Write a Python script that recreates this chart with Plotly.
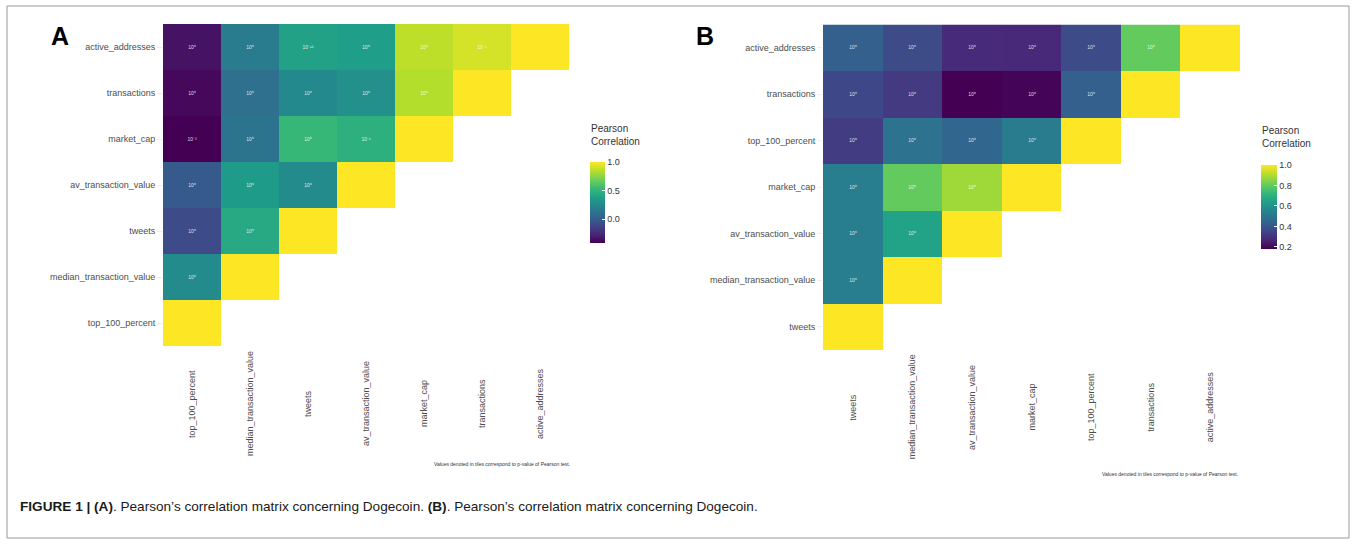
import plotly.graph_objects as go

W, H = 1356, 544

# ---------------- Data ----------------
# Panel A: x order (left->right); rows listed top->bottom = reversed x order
vars_A = ["top_100_percent", "median_transaction_value", "tweets", "av_transaction_value",
          "market_cap", "transactions", "active_addresses"]
corr_A = [  # rows top -> bottom (active_addresses ... top_100_percent)
    [-0.35, 0.17, 0.39, 0.37, 0.86, 0.91, 1.0],
    [-0.39, 0.10, 0.25, 0.29, 0.84, 1.0],
    [-0.42, 0.12, 0.53, 0.48, 1.0],
    [-0.02, 0.36, 0.26, 1.0],
    [-0.09, 0.43, 1.0],
    [0.26, 1.0],
    [1.0],
]
pexp_A = [
    [0, 0, -12, 0, 0, -6, None],
    [0, 0, 0, 0, 0, None],
    [-3, 0, 0, -1, None],
    [0, 0, 0, None],
    [0, 0, None],
    [0, None],
    [None],
]

# Panel B
vars_B = ["tweets", "median_transaction_value", "av_transaction_value", "market_cap",
          "top_100_percent", "transactions", "active_addresses"]
corr_B = [  # rows top -> bottom
    [0.43, 0.37, 0.28, 0.27, 0.37, 0.80, 1.0],
    [0.36, 0.32, 0.18, 0.19, 0.43, 1.0],
    [0.33, 0.49, 0.45, 0.52, 1.0],
    [0.53, 0.80, 0.88, 1.0],
    [0.53, 0.65, 1.0],
    [0.53, 1.0],
    [1.0],
]
pexp_B = [
    [0, 0, 0, 0, 0, 0, None],
    [0, 0, 0, 0, 0, None],
    [0, 0, 0, 0, None],
    [0, 0, 0, None],
    [0, 0, None],
    [0, None],
    [None],
]

cbar_A_ticks = [0.0, 0.5, 1.0]
cbar_B_ticks = [0.2, 0.4, 0.6, 0.8, 1.0]
footnote = "Values denoted in tiles correspond to p-value of Pearson test."
caption = ("<b>FIGURE 1 | (A)</b>. Pearson\u2019s correlation matrix concerning Dogecoin. "
           "<b>(B)</b>. Pearson\u2019s correlation matrix concerning Dogecoin.")

SUP = str.maketrans("0123456789-", "\u2070\u00b9\u00b2\u00b3\u2074\u2075\u2076\u2077\u2078\u2079\u207b")


def build(vars_, corr, pexp):
    n = len(vars_)
    z, t = [], []
    # y order bottom->top equals vars_ order; rows given top->bottom
    for r_top in reversed(range(n)):
        row = corr[r_top]
        prow = pexp[r_top]
        zr, tr = [], []
        for c in range(n):
            if c < len(row):
                zr.append(row[c])
                tr.append("" if prow[c] is None else "10" + str(prow[c]).translate(SUP))
            else:
                zr.append(None)
                tr.append("")
        z.append(zr)
        t.append(tr)
    return z, t


def px(x):
    return x / W


def py(y):
    return 1 - y / H


zA, tA = build(vars_A, corr_A, pexp_A)
zB, tB = build(vars_B, corr_B, pexp_B)

fig = go.Figure()
tick_font = dict(family="Liberation Sans, Arial", size=9, color="#4d4d4d")

fig.add_trace(go.Heatmap(
    x=vars_A, y=vars_A, z=zA, text=tA, texttemplate="%{text}",
    textfont=dict(size=5, color="rgba(255,255,255,0.85)", family="Liberation Sans, Arial"),
    colorscale="Viridis", zmin=min(min(r) for r in corr_A), zmax=1.0,
    xaxis="x", yaxis="y", hoverongaps=False,
    colorbar=dict(x=px(590), xanchor="left", y=py(202.5), yanchor="middle",
                  len=81, lenmode="pixels", thickness=15, outlinewidth=0,
                  xpad=0, ypad=0, ticks="inside", ticklen=3, tickcolor="white",
                  tickvals=cbar_A_ticks, ticktext=[f"{v:.1f}" for v in cbar_A_ticks],
                  tickfont=dict(family="Liberation Sans, Arial", size=9, color="#333333")),
))
fig.add_trace(go.Heatmap(
    x=vars_B, y=vars_B, z=zB, text=tB, texttemplate="%{text}",
    textfont=dict(size=5, color="rgba(255,255,255,0.85)", family="Liberation Sans, Arial"),
    colorscale="Viridis", zmin=min(min(r) for r in corr_B), zmax=1.0,
    xaxis="x2", yaxis="y2", hoverongaps=False,
    colorbar=dict(x=px(1261), xanchor="left", y=py(207), yanchor="middle",
                  len=84, lenmode="pixels", thickness=16, outlinewidth=0,
                  xpad=0, ypad=0, ticks="inside", ticklen=3, tickcolor="white",
                  tickvals=cbar_B_ticks, ticktext=[f"{v:.1f}" for v in cbar_B_ticks],
                  tickfont=dict(family="Liberation Sans, Arial", size=9, color="#333333")),
))

xcommon = dict(showticklabels=False, showgrid=False, zeroline=False, ticks="",
               showline=False, type="category")
ycommon = dict(showgrid=False, zeroline=False, ticks="outside", ticklen=5,
               tickcolor="#eeeeee", tickfont=tick_font, showline=False, type="category")

fig.update_layout(
    width=W, height=H,
    margin=dict(l=0, r=0, t=0, b=0),
    paper_bgcolor="white", plot_bgcolor="white",
    font=dict(family="Liberation Sans, Arial", color="#333333"),
    xaxis=dict(domain=[px(163), px(569)], anchor="y", **xcommon),
    yaxis=dict(domain=[py(346), py(24)], anchor="x", **ycommon),
    xaxis2=dict(domain=[px(823), px(1240)], anchor="y2", **xcommon),
    yaxis2=dict(domain=[py(350), py(24.5)], anchor="x2", **ycommon),
    showlegend=False,
)

ann = []
for v in vars_A:
    ann.append(dict(x=v, xref="x", y=py(404), yref="paper", text=v, textangle=-90,
                    showarrow=False, font=tick_font, xanchor="center", yanchor="middle"))
for v in vars_B:
    ann.append(dict(x=v, xref="x2", y=py(407), yref="paper", text=v, textangle=-90,
                    showarrow=False, font=tick_font, xanchor="center", yanchor="middle"))
# colorbar titles
for xx, yy in [(589, 135), (1260, 137)]:
    ann.append(dict(x=px(xx), y=py(yy), xref="paper", yref="paper", xanchor="left",
                    yanchor="middle", align="left", showarrow=False,
                    text="Pearson<br>Correlation",
                    font=dict(family="Liberation Sans, Arial", size=10, color="#333333")))
# footnotes
for xx, yy in [(502, 464), (1170, 474)]:
    ann.append(dict(x=px(xx), y=py(yy), xref="paper", yref="paper", xanchor="center",
                    yanchor="middle", showarrow=False, text=footnote,
                    font=dict(family="Liberation Sans, Arial", size=5, color="#333333")))
# panel letters
for lab, xx in [("A", 60), ("B", 705)]:
    ann.append(dict(x=px(xx), y=py(36), xref="paper", yref="paper", xanchor="center",
                    yanchor="middle", showarrow=False, text=f"<b>{lab}</b>",
                    font=dict(family="Liberation Sans, Arial", size=25, color="black")))
# caption
ann.append(dict(x=px(18), y=py(506), xref="paper", yref="paper", xanchor="left",
                yanchor="middle", showarrow=False, text=caption,
                font=dict(family="Liberation Sans, Arial", size=13.6, color="#1a1a1a")))
fig.update_layout(annotations=ann)

fig.add_shape(type="rect", xref="paper", yref="paper",
              x0=px(7), x1=px(1349), y0=py(538), y1=py(6),
              line=dict(color="#9a9a9a", width=1), fillcolor="rgba(0,0,0,0)", layer="below")

fig.write_html("out.html")
